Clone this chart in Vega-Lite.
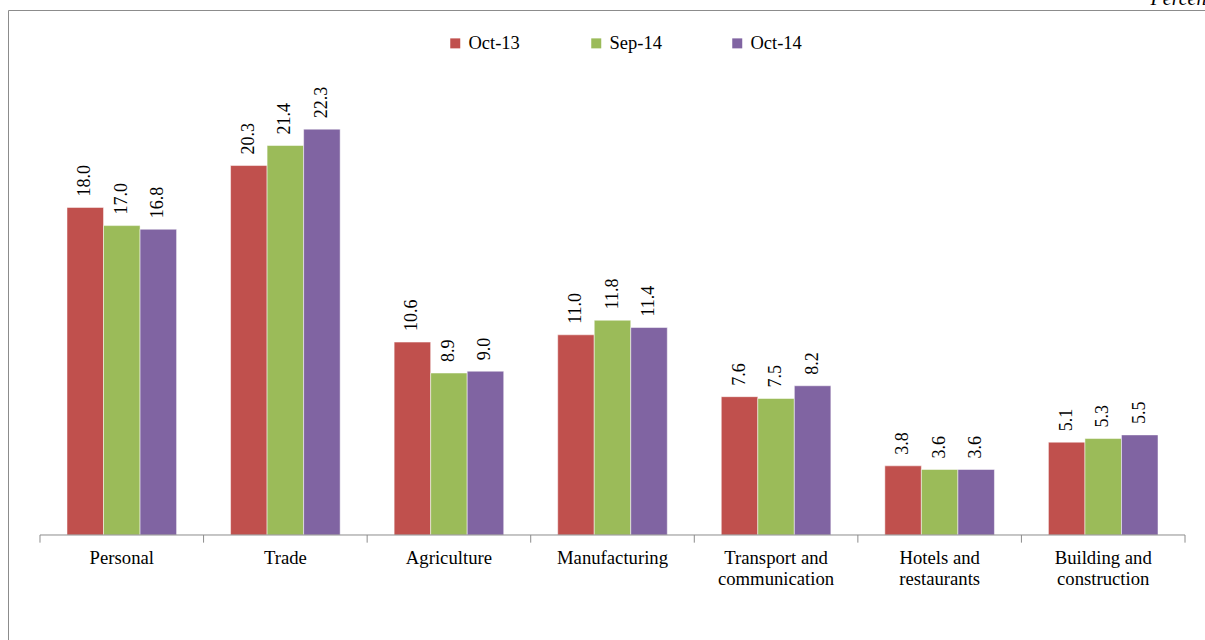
{
  "$schema": "https://vega.github.io/schema/vega-lite/v6.json",
  "autosize": {"type": "none"},
  "padding": {"left": 8, "top": 10, "right": 0, "bottom": 0},
  "width": 1209,
  "height": 640,
  "background": "white",
  "config": {
    "view": {"stroke": "#8c8c8c", "strokeWidth": 1},
    "font": "Liberation Serif, Times New Roman, serif"
  },
  "title": {
    "text": "Percent",
    "anchor": "end",
    "orient": "top",
    "fontStyle": "italic",
    "fontWeight": "normal",
    "font": "Liberation Serif, Times New Roman, serif",
    "fontSize": 20,
    "color": "black",
    "offset": 1,
    "dx": -5
  },
  "datasets": {
    "bars": [
      {"cat": "Personal", "series": "Oct-13", "value": 18.0},
      {"cat": "Personal", "series": "Sep-14", "value": 17.0},
      {"cat": "Personal", "series": "Oct-14", "value": 16.8},
      {"cat": "Trade", "series": "Oct-13", "value": 20.3},
      {"cat": "Trade", "series": "Sep-14", "value": 21.4},
      {"cat": "Trade", "series": "Oct-14", "value": 22.3},
      {"cat": "Agriculture", "series": "Oct-13", "value": 10.6},
      {"cat": "Agriculture", "series": "Sep-14", "value": 8.9},
      {"cat": "Agriculture", "series": "Oct-14", "value": 9.0},
      {"cat": "Manufacturing", "series": "Oct-13", "value": 11.0},
      {"cat": "Manufacturing", "series": "Sep-14", "value": 11.8},
      {"cat": "Manufacturing", "series": "Oct-14", "value": 11.4},
      {"cat": "Transport and communication", "series": "Oct-13", "value": 7.6},
      {"cat": "Transport and communication", "series": "Sep-14", "value": 7.5},
      {"cat": "Transport and communication", "series": "Oct-14", "value": 8.2},
      {"cat": "Hotels and restaurants", "series": "Oct-13", "value": 3.8},
      {"cat": "Hotels and restaurants", "series": "Sep-14", "value": 3.6},
      {"cat": "Hotels and restaurants", "series": "Oct-14", "value": 3.6},
      {"cat": "Building and construction", "series": "Oct-13", "value": 5.1},
      {"cat": "Building and construction", "series": "Sep-14", "value": 5.3},
      {"cat": "Building and construction", "series": "Oct-14", "value": 5.5}
    ],
    "bounds": [
      {"b": 0}, {"b": 1}, {"b": 2}, {"b": 3}, {"b": 4}, {"b": 5}, {"b": 6}, {"b": 7}
    ],
    "base": [
      {"start": 0, "end": 7}
    ]
  },
  "resolve": {"scale": {"x": "independent"}},
  "layer": [
    {
      "data": {"name": "bars"},
      "encoding": {
        "x": {
          "field": "cat",
          "type": "nominal",
          "sort": ["Personal", "Trade", "Agriculture", "Manufacturing", "Transport and communication", "Hotels and restaurants", "Building and construction"],
          "scale": {"paddingInner": 0.33, "paddingOuter": 0.3607},
          "axis": {
            "title": null,
            "orient": "bottom",
            "offset": -115,
            "labelAngle": 0,
            "domain": false,
            "ticks": false,
            "labelPadding": 13,
            "labelFont": "Liberation Serif, Times New Roman, serif",
            "labelFontSize": 18.7,
            "labelColor": "black",
            "labelLineHeight": 21,
            "labelBaseline": "top",
            "labelLimit": 300,
            "labelExpr": "indexof(datum.value, ' and ') >= 0 ? [slice(datum.value, 0, indexof(datum.value, ' and ') + 4), slice(datum.value, indexof(datum.value, ' and ') + 5)] : datum.value"
          }
        },
        "xOffset": {
          "field": "series",
          "type": "nominal",
          "sort": ["Oct-13", "Sep-14", "Oct-14"],
          "scale": {"paddingInner": 0, "paddingOuter": 0}
        },
        "y": {
          "field": "value",
          "type": "quantitative",
          "scale": {"domain": [-6.3187, 28.846], "nice": false, "zero": false},
          "axis": null
        }
      },
      "layer": [
        {
          "mark": {"type": "bar", "stroke": "white", "strokeWidth": 0.5},
          "encoding": {
            "y2": {"datum": 0},
            "color": {
              "field": "series",
              "type": "nominal",
              "sort": ["Oct-13", "Sep-14", "Oct-14"],
              "scale": {"domain": ["Oct-13", "Sep-14", "Oct-14"], "range": ["#C0504D", "#9BBB59", "#8064A2"]},
              "legend": {
                "title": null,
                "orient": "none",
                "direction": "horizontal",
                "legendX": 438,
                "legendY": 24,
                "symbolType": "square",
                "symbolSize": 100,
                "symbolStrokeWidth": 0,
                "labelFont": "Liberation Serif, Times New Roman, serif",
                "labelFontSize": 18.5,
                "labelColor": "black",
                "labelOffset": 4,
                "columnPadding": 66,
                "gridAlign": "all"
              }
            }
          }
        },
        {
          "mark": {"type": "text", "angle": 270, "align": "left", "baseline": "middle", "dx": 11, "font": "Liberation Serif, Times New Roman, serif", "fontSize": 18, "color": "black"},
          "encoding": {
            "text": {"field": "value", "type": "quantitative", "format": ".1f"}
          }
        }
      ]
    },
    {
      "data": {"name": "base"},
      "mark": {"type": "rule", "color": "#8c8c8c", "strokeWidth": 1},
      "encoding": {
        "x": {"field": "start", "type": "quantitative", "scale": {"domain": [-0.1956, 7.1956], "nice": false, "zero": false}, "axis": null},
        "x2": {"field": "end"},
        "y": {"datum": 0, "type": "quantitative"}
      }
    },
    {
      "data": {"name": "bounds"},
      "mark": {"type": "rule", "color": "#8c8c8c", "strokeWidth": 1},
      "encoding": {
        "x": {"field": "b", "type": "quantitative", "scale": {"domain": [-0.1956, 7.1956], "nice": false, "zero": false}, "axis": null},
        "y": {"datum": 0, "type": "quantitative"},
        "y2": {"datum": -0.42}
      }
    }
  ]
}
